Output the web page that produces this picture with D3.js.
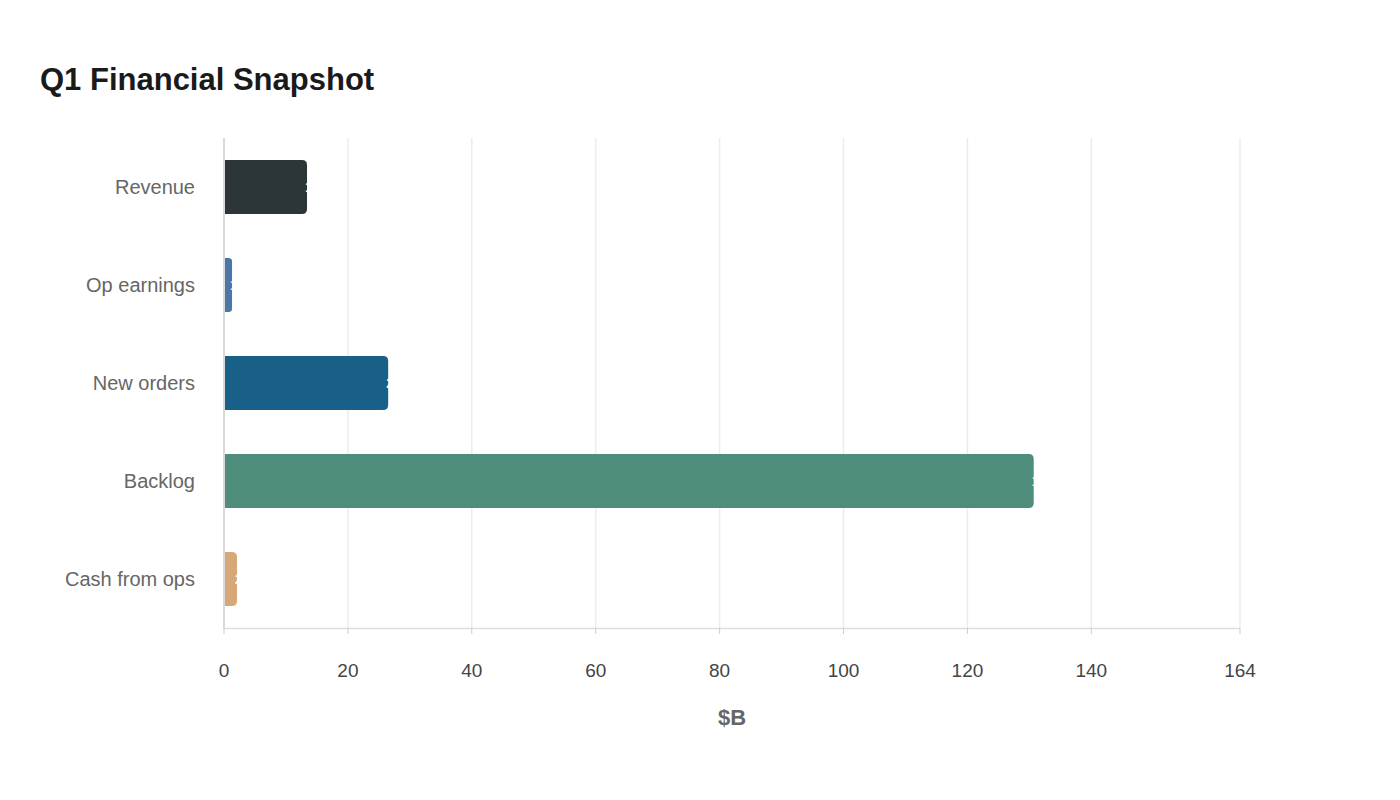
<!DOCTYPE html><html><head><meta charset="utf-8"><script src="https://cdn.jsdelivr.net/npm/d3@7"></script>
<style>body{margin:0;background:#fff;font-family:"Liberation Sans",Arial,sans-serif}</style></head><body>
<svg id="c" width="1400" height="800"></svg>
<script>
const categories=["Revenue","Op earnings","New orders","Backlog","Cash from ops"];
const values=[13.4,1.3,26.5,130.7,2.1];
const colors=["#2c3538","#4a76a8","#186088","#4e8c7b","#d6a878"];
const tickValues=[0,20,40,60,80,100,120,140,164];
const svg=d3.select("#c");
svg.append("text").attr("x",40).attr("y",90).text("Q1 Financial Snapshot").attr("font-size",31).attr("font-weight","bold").attr("fill","#1a1a1a");
const x=d3.scaleLinear().domain([0,164]).range([224,1240]);
const y=d3.scaleBand().domain(categories).range([138,628]).paddingInner(0.45).paddingOuter(0.225);
svg.append("g").selectAll("line").data(tickValues.slice(1)).join("line").attr("x1",d=>x(d)).attr("x2",d=>x(d)).attr("y1",138).attr("y2",628).attr("stroke","#ececec").attr("stroke-width",1.5);
svg.append("g").selectAll("path").data(values).join("path").attr("fill",(d,i)=>colors[i]).attr("d",(d,i)=>{
 const x0=x(0)+1,x1=x(d),y0=y(categories[i]),h=y.bandwidth(),r=Math.min(5,(x1-x0)/2);
 return `M${x0},${y0}H${x1-r}Q${x1},${y0} ${x1},${y0+r}V${y0+h-r}Q${x1},${y0+h} ${x1-r},${y0+h}H${x0}Z`;});
svg.append("g").selectAll("text").data(values).join("text").attr("x",d=>x(d)-2).attr("y",(d,i)=>y(categories[i])+y.bandwidth()/2+5).attr("fill","#fff").attr("font-size",15).attr("font-weight","bold").text(d=>d);
svg.append("line").attr("x1",224).attr("x2",224).attr("y1",138).attr("y2",629).attr("stroke","#ccc").attr("stroke-width",1.5);
svg.append("line").attr("x1",224).attr("x2",1240).attr("y1",628.5).attr("y2",628.5).attr("stroke","#ddd").attr("stroke-width",1.5);
svg.append("g").selectAll("line").data(tickValues).join("line").attr("x1",d=>x(d)).attr("x2",d=>x(d)).attr("y1",628).attr("y2",634).attr("stroke","#ccc");
svg.append("g").selectAll("text").data(tickValues).join("text").attr("x",d=>x(d)).attr("y",677).attr("text-anchor","middle").attr("font-size",19).attr("fill","#444").text(d=>d);
svg.append("g").selectAll("text").data(categories).join("text").attr("x",195).attr("y",d=>y(d)+y.bandwidth()/2+7).attr("text-anchor","end").attr("font-size",20).attr("fill","#666").text(d=>d);
svg.append("text").attr("x",732).attr("y",725).attr("text-anchor","middle").attr("font-size",22).attr("font-weight","bold").attr("fill","#666").text("$B");
</script></body></html>
